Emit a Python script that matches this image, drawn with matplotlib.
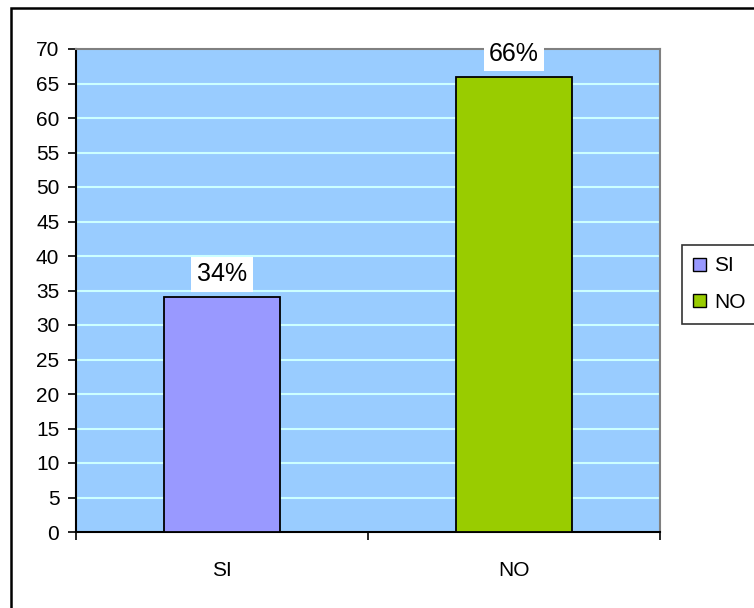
import matplotlib.pyplot as plt
from matplotlib.patches import Rectangle, Patch

# data
categories = ['SI', 'NO']
values = [34, 66]
labels = ['34%', '66%']
colors = ['#9999FF', '#99CC00']

plt.rcParams['font.family'] = ['Liberation Sans', 'DejaVu Sans']

fig = plt.figure(figsize=(7.54, 6.08), dpi=100)
ax = fig.add_axes([76/754, 1-532/608, 584/754, 483/608])
ax.set_facecolor('#99CCFF')

# outer frame (cut off at right and bottom)
fig.patches.append(Rectangle((11/754, -0.1), 1.2, 1-8/608+0.1, transform=fig.transFigure,
                             fill=False, edgecolor='black', linewidth=1.8))

x = range(len(categories))
ax.bar(x, values, width=0.4, color=colors, edgecolor='black', linewidth=1.3, zorder=3)

# percentage labels in white boxes
for i, v in enumerate(values):
    ax.text(i, v + 1.6, labels[i], ha='center', va='bottom', fontsize=18, zorder=4,
            bbox=dict(facecolor='white', edgecolor='none', pad=4))

ax.set_xlim(-0.5, 1.5)
ax.set_ylim(0, 70)
ax.set_yticks(range(0, 71, 5))
ax.set_xticks([-0.5, 0.5, 1.5], minor=False)
ax.set_xticklabels([])
ax.set_xticks(list(x), minor=True)
ax.set_xticklabels(categories, minor=True)
ax.tick_params(axis='x', which='minor', length=0, pad=21, labelsize=15)
ax.tick_params(axis='x', which='major', length=6, width=1.2, direction='out')
ax.tick_params(axis='y', length=6, width=1.2, labelsize=15, pad=6)

ax.yaxis.grid(True, color='#CCFFFF', linewidth=1.5, zorder=1)
ax.set_axisbelow(True)
for s in ['top', 'right']:
    ax.spines[s].set_color('#808080')
    ax.spines[s].set_linewidth(1.5)
for s in ['left', 'bottom']:
    ax.spines[s].set_color('black')
    ax.spines[s].set_linewidth(1.5)

handles = [Patch(facecolor=c, edgecolor='black', linewidth=1.0) for c in colors]
leg = fig.legend(handles, categories, loc='upper left', bbox_to_anchor=(682/754, 1-245/608),
                 fontsize=15, frameon=True, fancybox=False, handlelength=0.6, handleheight=0.6,
                 handletextpad=0.4, borderpad=0.55, labelspacing=0.85, borderaxespad=0)
leg.get_frame().set_edgecolor('black')
leg.get_frame().set_linewidth(1.2)

fig.savefig('out.png', dpi=100)
